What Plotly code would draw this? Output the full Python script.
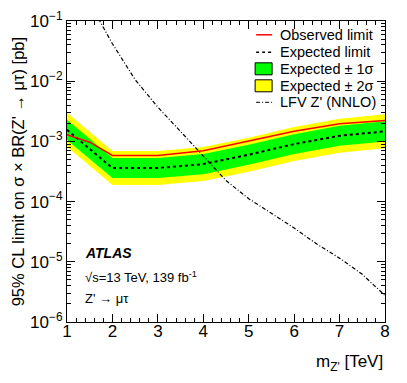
import plotly.graph_objects as go

# m_Z' [TeV]
mass = [1.0, 1.5, 2.0, 3.0, 4.0, 5.0, 6.0, 7.0, 8.0]

observed = [1.29e-3, 9.7e-4, 5.85e-4, 5.85e-4, 7.0e-4, 1.0e-3, 1.47e-3, 1.97e-3, 2.23e-3]
expected = [1.56e-3, 7.56e-4, 3.60e-4, 3.60e-4, 4.20e-4, 6.01e-4, 9.02e-4, 1.24e-3, 1.47e-3]
exp_1s_up = [2.29e-3, 1.11e-3, 5.28e-4, 5.28e-4, 6.16e-4, 8.81e-4, 1.32e-3, 1.82e-3, 2.16e-3]
exp_1s_dn = [1.06e-3, 5.16e-4, 2.46e-4, 2.46e-4, 2.86e-4, 4.10e-4, 6.15e-4, 8.46e-4, 1.00e-3]
exp_2s_up = [2.99e-3, 1.45e-3, 6.90e-4, 6.90e-4, 8.05e-4, 1.15e-3, 1.73e-3, 2.38e-3, 2.82e-3]
exp_2s_dn = [8.14e-4, 3.95e-4, 1.88e-4, 1.88e-4, 2.19e-4, 3.14e-4, 4.71e-4, 6.47e-4, 7.67e-4]

# LFV Z' (NNLO) theory cross section
theory_mass = [1.5, 2.0, 2.5, 3.0, 3.5, 4.0, 4.5, 5.0, 5.5, 6.0, 6.5, 7.0, 7.5, 8.0]
theory_xs = [2.0e-1, 4.19e-2, 1.06e-2, 3.7e-3, 1.46e-3, 5.6e-4, 2.24e-4, 1.12e-4,
             6.3e-5, 3.64e-5, 1.97e-5, 1.15e-5, 6.2e-6, 2.75e-6]

y_ticks = [1e-6, 1e-5, 1e-4, 1e-3, 1e-2, 1e-1]
y_ticktext = ["10<sup>−6</sup>", "10<sup>−5</sup>", "10<sup>−4</sup>",
              "10<sup>−3</sup>", "10<sup>−2</sup>", "10<sup>−1</sup>"]
y_minor = [m * 10.0 ** e for e in range(-6, -1) for m in range(2, 10)]

legend_labels = ["Observed limit", "Expected limit", "Expected ± 1σ",
                 "Expected ± 2σ", "LFV Z' (NNLO)"]

FONT = "Liberation Sans, Arial, sans-serif"
DASHDOT = "4px,2px,1px,2px"

# plot frame in page pixels (page has an 8px body margin)
X0, X1, Y0, Y1 = 66.7, 385.0, 20.7, 321.7


def px(x):
    return (x - X0) / (X1 - X0)


def py(y):
    return (Y1 - y) / (Y1 - Y0)


fig = go.Figure()

# bands: 2 sigma then 1 sigma
fig.add_trace(go.Scatter(x=mass, y=exp_2s_dn, mode="lines", line=dict(width=0),
                         showlegend=False, hoverinfo="skip"))
fig.add_trace(go.Scatter(x=mass, y=exp_2s_up, mode="lines", line=dict(width=0),
                         fill="tonexty", fillcolor="#ffff00", showlegend=False))
fig.add_trace(go.Scatter(x=mass, y=exp_1s_dn, mode="lines", line=dict(width=0),
                         showlegend=False, hoverinfo="skip"))
fig.add_trace(go.Scatter(x=mass, y=exp_1s_up, mode="lines", line=dict(width=0),
                         fill="tonexty", fillcolor="#00ff00", showlegend=False))

fig.add_trace(go.Scatter(x=mass, y=expected, mode="lines", name=legend_labels[1],
                         line=dict(color="black", width=2, dash="dot"), showlegend=False))
fig.add_trace(go.Scatter(x=mass, y=observed, mode="lines", name=legend_labels[0],
                         line=dict(color="#ff0000", width=1.5), showlegend=False))
fig.add_trace(go.Scatter(x=theory_mass, y=theory_xs, mode="lines", name=legend_labels[4],
                         line=dict(color="black", width=1.2, dash=DASHDOT),
                         showlegend=False))

fig.update_layout(
    width=399,
    height=375,
    margin=dict(l=59, r=22, t=13, b=61),
    plot_bgcolor="white",
    paper_bgcolor="white",
    font=dict(family=FONT, size=13, color="black"),
    showlegend=False,
)

fig.update_xaxes(
    range=[1, 8], automargin=False,
    showline=True, linecolor="black", linewidth=1, mirror="ticks",
    ticks="inside", ticklen=8, tickcolor="black", dtick=1, tick0=1,
    minor=dict(ticks="inside", ticklen=4, dtick=0.2, tick0=1, tickcolor="black"),
    showgrid=False, zeroline=False,
    tickfont=dict(size=17), ticklabelstandoff=-6,
)
fig.update_yaxes(
    type="log", range=[-6, -1], automargin=False,
    showline=True, linecolor="black", linewidth=1, mirror="ticks",
    ticks="inside", ticklen=8, tickcolor="black",
    tickmode="array", tickvals=y_ticks, ticktext=y_ticktext,
    minor=dict(ticks="inside", ticklen=4, tickmode="array", tickvals=y_minor,
               tickcolor="black"),
    showgrid=False, zeroline=False,
    tickfont=dict(size=17),
)

# hand-built legend (tighter row spacing than plotly's own legend)
rows = [34.5, 52.0, 68.5, 85.5, 102.0]
line_styles = [dict(color="#ff0000", width=1.5), dict(color="black", width=1.5, dash="dot"),
               None, None, dict(color="black", width=1, dash=DASHDOT)]
box_fills = [None, None, "#00ff00", "#ffff00", None]
for label, ry, ls, bf in zip(legend_labels, rows, line_styles, box_fills):
    if ls is not None:
        fig.add_shape(type="line", xref="paper", yref="paper",
                      x0=px(256), x1=px(272), y0=py(ry), y1=py(ry), line=ls)
    else:
        fig.add_shape(type="rect", xref="paper", yref="paper",
                      x0=px(255), x1=px(272), y0=py(ry - 6), y1=py(ry + 6),
                      fillcolor=bf, line=dict(color="black", width=1))
    fig.add_annotation(x=px(277.5), y=py(ry), xref="paper", yref="paper",
                       xanchor="left", yanchor="middle", showarrow=False,
                       text=label, font=dict(size=14.5))

# axis titles
fig.add_annotation(x=1.0, y=-0.137, xref="paper", yref="paper", xanchor="right",
                   yanchor="middle", showarrow=False,
                   text="m<sub>Z'</sub> [TeV]", font=dict(size=17))
fig.add_annotation(x=px(17.5), y=0.5, xref="paper", yref="paper", xanchor="center",
                   yanchor="middle", showarrow=False, textangle=-90,
                   text="95% CL limit on σ × BR(Z' → μτ) [pb]", font=dict(size=16.5))

fig.add_annotation(x=0.05, y=0.228, xref="paper", yref="paper", xanchor="left",
                   yanchor="middle", showarrow=False, text="<b><i>ATLAS</i></b>",
                   font=dict(size=14))
fig.add_annotation(x=0.05, y=0.15, xref="paper", yref="paper", xanchor="left",
                   yanchor="middle", showarrow=False,
                   text="√s=13 TeV, 139 fb<sup>-1</sup>", font=dict(size=13))
fig.add_annotation(x=0.05, y=0.078, xref="paper", yref="paper", xanchor="left",
                   yanchor="middle", showarrow=False, text="Z' → μτ",
                   font=dict(size=13))

fig.write_html("out.html")
